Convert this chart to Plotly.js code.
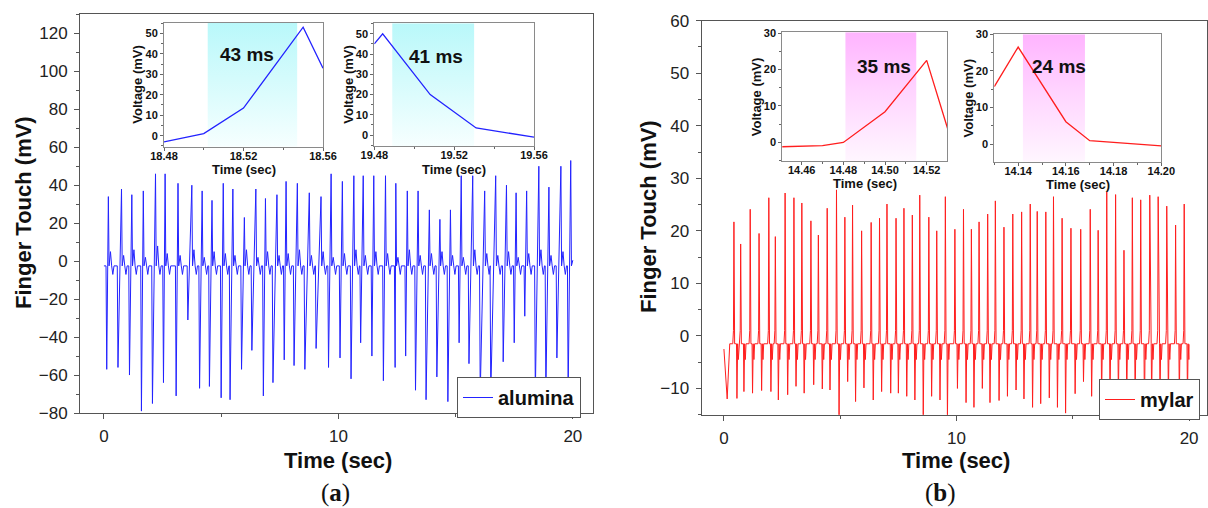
<!DOCTYPE html>
<html><head><meta charset="utf-8">
<script src="https://cdn.plot.ly/plotly-3.0.1.min.js"></script>
<style>html,body{margin:0;padding:0;background:#fff}#chart{width:1208px;height:508px}</style>
</head><body><div id="chart"></div>
<script>
// ---------------- DATA ----------------
// (a) alumina: each touch = negative dip followed by a positive peak
const aluminaBase = -2.5;
const aluminaDipT = [0.12,0.60,1.09,1.60,2.07,2.54,3.08,3.58,4.08,4.50,5.00,5.38,5.87,6.31,6.80,7.21,7.69,8.11,8.57,9.05,9.58,10.07,10.54,10.95,11.43,11.92,12.42,12.87,13.29,13.74,14.20,14.67,15.15,15.57,16.05,16.50,17.03,17.50,17.95,18.40,18.85,19.32,19.80];
const aluminaDipV = [-57,-56,-60,-79,-75,-64,-71,-31,-67,-66,-72,-73,-57,-47,-71,-64,-52,-55,-57,-46,-56,-51,-62,-43,-50,-63,-56,-50,-68,-73,-61,-74,-43,-54,-70,-70,-53,-43,-29,-70,-70,-51,-70];
const aluminaPeakT = [0.19,0.75,1.19,1.68,2.20,2.61,3.16,3.75,4.19,4.61,5.09,5.50,5.99,6.48,6.89,7.38,7.77,8.25,8.76,9.26,9.69,10.17,10.66,11.06,11.51,12.01,12.45,12.94,13.40,13.88,14.33,14.78,15.24,15.73,16.24,16.71,17.17,17.58,18.03,18.55,18.98,19.49,19.91];
const aluminaPeakV = [34,38,35,37,46,46,41,40,37,32,41,38,23,38,33,35,42,41,36,34,46,42,45,45,45,45,41,37,37,27,22,27,45,45,37,45,40,36,37,50,39,50,53];
const aluminaBumpV = [5,3,6,2,8,4,3,6,2,5,4,3,6,2,5,3,4,6,3,5,2,4,6,3,5,4,2,6,3,4,5,3,2,6,4,3,5,2,4,6,3,5,4];
const aluminaSmallDip = -7;
const aluminaEndV = 0.5;

// (b) mylar: each touch = positive peak followed by a negative dip
const mylarBase = -1.5;
const mylarStartT = [0.0,0.14];
const mylarStartV = [-2.5,-12];
const mylarPeakT = [0.43,0.72,1.13,1.51,1.93,2.21,2.63,3.01,3.35,3.74,4.06,4.44,4.84,5.20,5.53,5.92,6.33,6.69,7.01,7.40,7.74,8.10,8.42,8.81,9.15,9.52,9.93,10.30,10.64,10.97,11.34,11.67,12.04,12.42,12.80,13.17,13.47,13.84,14.17,14.54,14.92,15.34,15.75,16.09,16.46,16.84,17.20,17.56,17.92,18.31,18.67,19.04,19.42,19.79];
const mylarPeakV = [21.7,17.5,24.1,19.5,26.3,18.9,27.2,26.3,25.3,21.9,19.2,24.3,27.8,22.6,24.9,20.0,21.6,22.4,25.1,22.4,24.3,23.0,26.8,22.6,20.0,26.5,20.3,24.1,20.3,21.7,23.2,25.7,20.7,23.2,23.6,25.1,23.7,23.6,26.5,22.4,20.5,20.3,24.1,20.1,27.4,26.9,16.3,26.3,25.9,26.8,26.5,24.7,21.1,25.1];
const mylarDipT = [0.56,0.86,1.23,1.62,2.02,2.34,2.74,3.10,3.45,3.86,4.23,4.56,4.95,5.32,5.66,6.02,6.42,6.78,7.17,7.50,7.86,8.21,8.57,8.93,9.29,9.61,10.04,10.41,10.75,11.11,11.44,11.83,12.19,12.56,12.90,13.27,13.62,13.99,14.34,14.69,15.10,15.46,15.81,16.24,16.60,16.96,17.32,17.68,18.08,18.39,18.75,19.11,19.58,19.93];
const mylarDipV = [-11.9,-10.6,-10.9,-10.4,-10.6,-12.2,-11.2,-9.6,-10.9,-9.3,-10.1,-10.3,-15.5,-8.7,-12.5,-9.9,-12.2,-10.6,-10.9,-10.9,-11.5,-12.2,-15.5,-11.5,-12.2,-15.5,-10.0,-12.7,-13.6,-10.0,-12.7,-12.3,-11.5,-10.3,-12.0,-13.6,-12.9,-11.8,-13.6,-14.7,-11.0,-8.7,-11.5,-12,-12,-12,-12,-12,-15.5,-12,-12,-12,-12,-12];
const mylarPreBump = 1.0;
const mylarPostDip = -4.5;
const mylarEndV = -1.6;

// insets
const inset1T = [18.48,18.50,18.52,18.55,18.56];
const inset1V = [-3,1,13.5,53,33];
const inset2T = [19.48,19.4842,19.508,19.531,19.56];
const inset2V = [45,50,20,3.5,-1];
const inset3T = [14.45,14.47,14.48,14.50,14.52,14.53];
const inset3V = [-1.2,-0.9,0,8.4,22.5,3.9];
const inset4T = [14.13,14.14,14.16,14.17,14.20];
const inset4V = [15.7,26.5,6.1,0.9,-0.5];
const shade1 = [18.502,18.547];
const shade2 = [19.489,19.530];
const shade3 = [14.481,14.515];
const shade4 = [14.142,14.168];
const insetLabels = ['43 ms','41 ms','35 ms','24 ms'];

// axis ranges
const rangeAX = [-1.02,20.86], rangeAY = [-80,130.2];
const rangeBX = [-0.96,20.77], rangeBY = [-15,60];
const range1X = [18.48,18.56], range1Y = [-5.4,55.2];
const range2X = [19.48,19.56], range2Y = [-5.4,55.2];
const range3X = [14.4507,14.5299], range3Y = [-5.1,30.2];
const range4X = [14.13,14.20], range4Y = [-4.84,30];

// ---------------- BUILD ----------------
const W = 1208, H = 508;
const px = v => v / W, py = v => 1 - v / H;
const FONT = 'Liberation Sans, Arial, sans-serif';
const BLUE = 'rgb(35,35,255)', RED = 'rgb(255,30,30)';

function buildAlumina(){
  const x=[0], y=[aluminaBase];
  for(let i=0;i<aluminaDipT.length;i++){
    const d=aluminaDipT[i], p=aluminaPeakT[i];
    x.push(d-0.03, d, p, p+0.03, p+0.09, p+0.14, p+0.19, p+0.24);
    y.push(aluminaBase, aluminaDipV[i], aluminaPeakV[i], aluminaBase, aluminaBumpV[i], aluminaBase, aluminaSmallDip, aluminaBase);
  }
  const xs=[], ys=[];
  for(let i=0;i<x.length;i++){ if(x[i]<20){xs.push(x[i]); ys.push(y[i]);} }
  xs.push(20); ys.push(aluminaEndV);
  return {x:xs,y:ys};
}
function buildMylar(){
  const x=mylarStartT.slice(), y=mylarStartV.slice();
  x.push(0.25); y.push(mylarBase);
  for(let i=0;i<mylarPeakT.length;i++){
    const p=mylarPeakT[i], d=mylarDipT[i];
    x.push(p-0.05, p-0.02, p, p+0.03, d-0.02, d, d+0.03, d+0.06, d+0.09);
    y.push(mylarBase, mylarPreBump, mylarPeakV[i], mylarBase, mylarBase, mylarDipV[i], mylarBase, mylarPostDip, mylarBase);
  }
  const xs=[], ys=[];
  for(let i=0;i<x.length;i++){ if(x[i]<20){xs.push(x[i]); ys.push(y[i]);} }
  xs.push(20); ys.push(mylarEndV);
  return {x:xs,y:ys};
}

const A = buildAlumina(), B = buildMylar();

function shadeTrace(win, yr, xa, ya, cs){
  return {type:'scatter', mode:'lines', x:[win[0],win[1],win[1],win[0],win[0]], y:[yr[0],yr[0],yr[1],yr[1],yr[0]],
    fill:'toself', fillcolor:cs[cs.length-1][1], fillgradient:{type:'vertical', colorscale:cs},
    line:{width:0}, hoverinfo:'skip', showlegend:false, xaxis:xa, yaxis:ya};
}
const CYAN = [[0,'rgb(246,255,255)'],[0.55,'rgb(212,251,252)'],[1,'rgb(185,248,250)']];
const MAG = [[0,'rgb(255,246,255)'],[0.55,'rgb(255,212,255)'],[1,'rgb(255,180,255)']];

const traces = [
  {type:'scatter', mode:'lines', x:A.x, y:A.y, name:'<b>alumina</b>', line:{color:BLUE,width:1}, xaxis:'x', yaxis:'y', legend:'legend'},
  {type:'scatter', mode:'lines', x:B.x, y:B.y, name:'<b>mylar</b>', line:{color:RED,width:1}, xaxis:'x2', yaxis:'y2', legend:'legend2'},
  shadeTrace(shade1, range1Y, 'x3','y3', CYAN),
  shadeTrace(shade2, range2Y, 'x4','y4', CYAN),
  shadeTrace(shade3, range3Y, 'x5','y5', MAG),
  shadeTrace(shade4, range4Y, 'x6','y6', MAG),
  {type:'scatter', mode:'lines', x:inset1T, y:inset1V, line:{color:BLUE,width:1.3}, xaxis:'x3', yaxis:'y3', showlegend:false},
  {type:'scatter', mode:'lines', x:inset2T, y:inset2V, line:{color:BLUE,width:1.3}, xaxis:'x4', yaxis:'y4', showlegend:false},
  {type:'scatter', mode:'lines', x:inset3T, y:inset3V, line:{color:RED,width:1.3}, xaxis:'x5', yaxis:'y5', showlegend:false},
  {type:'scatter', mode:'lines', x:inset4T, y:inset4V, line:{color:RED,width:1.3}, xaxis:'x6', yaxis:'y6', showlegend:false}
];

function mainAx(domain, range, anchor, dtick, minor){
  return {domain:domain, range:range, anchor:anchor, autorange:false, showline:true, linecolor:'#555', linewidth:1, mirror:true,
    ticks:'outside', ticklen:5, tickwidth:1, tickcolor:'#555', showgrid:false, zeroline:false, tick0:0, dtick:dtick,
    ticklabelstandoff:3, tickfont:{family:FONT,size:17,color:'#222'},
    minor:{dtick:minor, ticks:'outside', ticklen:3, tickwidth:1, tickcolor:'#555', showgrid:false}};
}
function insetAx(domain, range, anchor, tick0, dtick, minor, fmt, standoff){
  const a = {domain:domain, range:range, anchor:anchor, autorange:false, showline:true, linecolor:'#8a8a8a', linewidth:1, mirror:true,
    ticks:'outside', ticklen:3, tickwidth:1, tickcolor:'#666', showgrid:false, zeroline:false, tick0:tick0, dtick:dtick,
    ticklabelstandoff:standoff, tickfont:{family:FONT,size:11,color:'#111',weight:'bold'},
    minor:{dtick:minor, ticks:'outside', ticklen:2, tickwidth:1, tickcolor:'#666', showgrid:false}};
  if(fmt) a.tickformat = fmt;
  return a;
}

const layout = {
  width:W, height:H, margin:{l:0,r:0,t:0,b:0,pad:0}, paper_bgcolor:'#fff', plot_bgcolor:'#fff',
  font:{family:FONT,color:'#222'}, showlegend:true, hovermode:false,
  xaxis: mainAx([px(80),px(593)], rangeAX, 'y', 10, 5),
  yaxis: mainAx([py(413),py(14)], rangeAY, 'x', 20, 10),
  xaxis2: mainAx([px(701.6),px(1207)], rangeBX, 'y2', 10, 5),
  yaxis2: mainAx([py(414.7),py(20.7)], rangeBY, 'x2', 10, 5),
  xaxis3: insetAx([px(164),px(323)], range1X, 'y3', 18.48, 0.04, 0.02, '.2f', -4),
  yaxis3: insetAx([py(146.7),py(22.7)], range1Y, 'x3', 0, 10, 5, null, 0),
  xaxis4: insetAx([px(374.3),px(534)], range2X, 'y4', 19.48, 0.04, 0.02, '.2f', -4),
  yaxis4: insetAx([py(146),py(23.3)], range2Y, 'x4', 0, 10, 5, null, 0),
  xaxis5: insetAx([px(782.3),px(947.3)], range3X, 'y5', 14.44, 0.02, 0.01, '.2f', -4),
  yaxis5: insetAx([py(161),py(32.3)], range3Y, 'x5', 0, 10, 5, null, 0),
  xaxis6: insetAx([px(994.3),px(1161.3)], range4X, 'y6', 14.14, 0.02, 0.01, '.2f', -4),
  yaxis6: insetAx([py(161.7),py(34.3)], range4Y, 'x6', 0, 10, 5, null, 0),
  legend:{x:px(457), y:py(377), xanchor:'left', yanchor:'top', bgcolor:'#fff', bordercolor:'#555', borderwidth:1,
    font:{family:FONT,size:20,color:'#111'}},
  legend2:{x:px(1099), y:py(379), xanchor:'left', yanchor:'top', bgcolor:'#fff', bordercolor:'#555', borderwidth:1,
    font:{family:FONT,size:20,color:'#111'}},
  annotations:[]
};

function ann(text, x, y, size, extra){
  const a = Object.assign({text:text, x:px(x), y:py(y), xref:'paper', yref:'paper', showarrow:false,
    xanchor:'center', yanchor:'middle', font:{family:FONT,size:size,color:'#111'}}, extra||{});
  layout.annotations.push(a);
}
// main axis titles
ann('<b>Finger Touch (mV)</b>', 24, 213, 22, {textangle:-90});
ann('<b>Finger Touch (mV)</b>', 648, 217, 22, {textangle:-90});
ann('<b>Time (sec)</b>', 338, 460, 22);
ann('<b>Time (sec)</b>', 956, 460, 22);
// panel labels
const SERIF = {family:'Liberation Serif, serif',size:25,color:'#111'};
ann('(<b>a</b>)', 335, 493, 25, {font:SERIF});
ann('(<b>b</b>)', 940, 493, 25, {font:SERIF});
// inset titles
ann('<b>Voltage (mV)</b>', 138, 84.7, 13, {textangle:-90});
ann('<b>Voltage (mV)</b>', 349, 84.7, 13, {textangle:-90});
ann('<b>Voltage (mV)</b>', 756.5, 96.7, 13, {textangle:-90});
ann('<b>Voltage (mV)</b>', 967.5, 98, 13, {textangle:-90});
ann('<b>Time (sec)</b>', 243.5, 169, 13);
ann('<b>Time (sec)</b>', 454, 169, 13);
ann('<b>Time (sec)</b>', 865, 183.5, 13);
ann('<b>Time (sec)</b>', 1078, 184.5, 13);
// inset durations
ann('<b>'+insetLabels[0]+'</b>', 246.7, 54, 19);
ann('<b>'+insetLabels[1]+'</b>', 435.8, 56.7, 19);
ann('<b>'+insetLabels[2]+'</b>', 884, 66.7, 19);
ann('<b>'+insetLabels[3]+'</b>', 1059.3, 66, 19);

Plotly.newPlot('chart', traces, layout, {displayModeBar:false, staticPlot:true});
</script></body></html>
